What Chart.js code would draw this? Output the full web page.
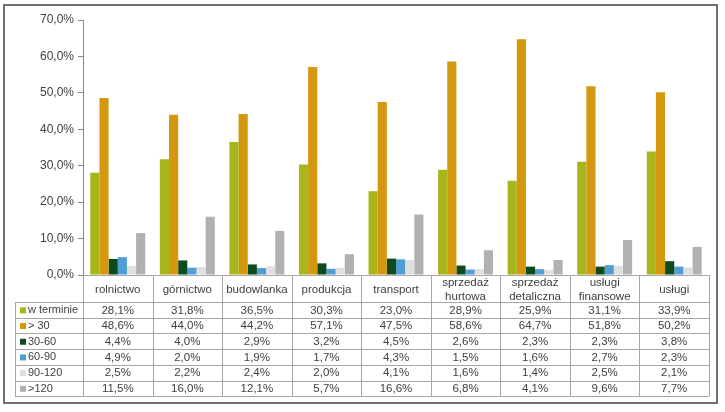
<!DOCTYPE html>
<html>
<head>
<meta charset="utf-8">
<script src="https://cdn.jsdelivr.net/npm/chart.js@4"></script>
<style>
  html, body { margin: 0; padding: 0; background: #fff; }
  #wrap { width: 725px; height: 412px; }
</style>
</head>
<body>
<div id="wrap"><canvas id="chart" width="725" height="412"></canvas></div>
<script>
const categories = ['rolnictwo', 'górnictwo', 'budowlanka', 'produkcja', 'transport',
  ['sprzedaż', 'hurtowa'], ['sprzedaż', 'detaliczna'], ['usługi', 'finansowe'], 'usługi'];

const wTerminie = [28.1, 31.8, 36.5, 30.3, 23.0, 28.9, 25.9, 31.1, 33.9];
const ponad30   = [48.6, 44.0, 44.2, 57.1, 47.5, 58.6, 64.7, 51.8, 50.2];
const d30_60    = [4.4, 4.0, 2.9, 3.2, 4.5, 2.6, 2.3, 2.3, 3.8];
const d60_90    = [4.9, 2.0, 1.9, 1.7, 4.3, 1.5, 1.6, 2.7, 2.3];
const d90_120   = [2.5, 2.2, 2.4, 2.0, 4.1, 1.6, 1.4, 2.5, 2.1];
const ponad120  = [11.5, 16.0, 12.1, 5.7, 16.6, 6.8, 4.1, 9.6, 7.7];

const seriesNames = ['w terminie', '> 30', '30-60', '60-90', '90-120', '>120'];
const seriesColors = ['#a9b51b', '#d4980f', '#0d4a20', '#4f9fd2', '#e0e0e0', '#b1b1b1'];
const seriesData = [wTerminie, ponad30, d30_60, d60_90, d90_120, ponad120];

const fmt = v => v.toFixed(1).replace('.', ',') + '%';
const FAMILY = '"Liberation Sans", Arial, sans-serif';

// draws the outer frame and the data table under the bars
const tablePlugin = {
  id: 'dataTable',
  afterDraw(chart) {
    const ctx = chart.ctx;
    const area = chart.chartArea;
    const xs = chart.scales.x;
    const n = categories.length;
    const w = (area.right - area.left) / n;
    const headTop = area.bottom;
    const headBottom = 302;
    const rowH = 15.7;
    const tableLeft = 15;
    const tableBottom = headBottom + rowH * seriesNames.length;

    ctx.save();
    ctx.strokeStyle = '#a6a6a6';
    ctx.lineWidth = 1;
    ctx.beginPath();
    for (let i = 0; i <= n; i++) {
      const x = Math.round(area.left + i * w) + 0.5;
      ctx.moveTo(x, headTop);
      ctx.lineTo(x, tableBottom);
    }
    ctx.moveTo(tableLeft + 0.5, headBottom);
    ctx.lineTo(tableLeft + 0.5, tableBottom);
    ctx.moveTo(area.left, Math.round(headTop) + 0.5);
    ctx.lineTo(area.right, Math.round(headTop) + 0.5);
    for (let r = 0; r <= seriesNames.length; r++) {
      const y = Math.round(headBottom + r * rowH) + 0.5;
      ctx.moveTo(tableLeft, y);
      ctx.lineTo(area.right, y);
    }
    ctx.stroke();

    ctx.font = '11.5px ' + FAMILY;
    ctx.fillStyle = '#404040';
    ctx.textAlign = 'center';
    ctx.textBaseline = 'middle';
    categories.forEach((c, i) => {
      const cx = xs.getPixelForValue(i);
      const cy = (headTop + headBottom) / 2 + 1;
      if (Array.isArray(c)) {
        ctx.fillText(c[0], cx, cy - 7);
        ctx.fillText(c[1], cx, cy + 7);
      } else {
        ctx.fillText(c, cx, cy);
      }
    });
    seriesData.forEach((arr, r) => {
      const cy = headBottom + r * rowH + rowH / 2 + 0.5;
      ctx.font = '11.5px ' + FAMILY;
      arr.forEach((v, i) => {
        ctx.fillText(fmt(v), xs.getPixelForValue(i), cy);
      });
      ctx.fillStyle = seriesColors[r];
      ctx.fillRect(tableLeft + 5, cy - 3, 6, 6);
      ctx.fillStyle = '#404040';
      ctx.textAlign = 'left';
      ctx.font = '11px ' + FAMILY;
      ctx.fillText(seriesNames[r], tableLeft + 13, cy);
      ctx.textAlign = 'center';
    });

    ctx.strokeStyle = '#6f6f6f';
    ctx.lineWidth = 2;
    ctx.strokeRect(4, 5, 713, 398);
    ctx.restore();
  }
};

new Chart(document.getElementById('chart'), {
  type: 'bar',
  data: {
    labels: categories,
    datasets: seriesNames.map((name, i) => ({
      label: name,
      data: seriesData[i],
      backgroundColor: seriesColors[i],
      borderWidth: 0,
      barPercentage: 1,
      categoryPercentage: 0.79
    }))
  },
  options: {
    responsive: false,
    animation: false,
    layout: { padding: { left: 15, right: 16, top: 20, bottom: 137 } },
    plugins: {
      legend: { display: false },
      tooltip: { enabled: false }
    },
    scales: {
      x: { display: false },
      y: {
        min: 0,
        max: 70,
        ticks: {
          stepSize: 10,
          callback: v => fmt(v),
          font: { family: FAMILY, size: 12 },
          color: '#404040',
          padding: 4
        },
        grid: { drawOnChartArea: false, drawTicks: true, tickLength: 5, color: '#868686' },
        border: { display: true, color: '#868686' },
        afterFit: s => { s.width = 68; }
      }
    }
  },
  plugins: [tablePlugin]
});
</script>
</body>
</html>
